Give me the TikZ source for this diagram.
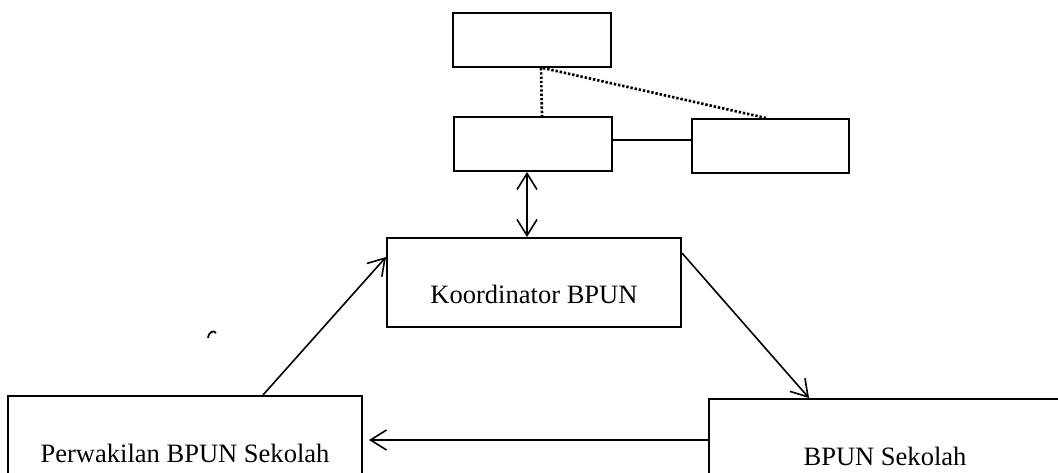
\documentclass[tikz,border=0pt]{standalone}
\usepackage{fontspec}
\setmainfont{Liberation Serif}
\usetikzlibrary{arrows.meta}
\begin{document}
\begin{tikzpicture}[x=0.75pt,y=-0.75pt,
 box/.style={draw,line width=1.5pt,inner sep=0pt,
  font=\fontsize{19.9pt}{24pt}\selectfont},
 conn/.style={line width=1.2pt},
 barb/.style={conn,-{Straight Barb[length=12pt,width=15pt]}},
 dots/.style={line width=2pt,dash pattern=on 1.8pt off 1.4pt}]
 \useasboundingbox (0,0) rectangle (1058,473);
 \node [box,minimum width=118.5pt,minimum height=40.5pt] (top) at (532,40) {};
 \node [box,minimum width=118.5pt,minimum height=40.5pt] (mid) at (533,144) {};
 \node [box,minimum width=117.75pt,minimum height=40.5pt] (side) at (770.5,146) {};
 \node [box,minimum width=220.5pt,minimum height=66.75pt,text height=33pt,text depth=0.8pt]
  (koord) at (534,282.5) {Koordinator BPUN};
 \node [box,minimum width=265.5pt,minimum height=85.5pt] (perw) at (185,453) {Perwakilan BPUN Sekolah};
 \node [box,minimum width=264pt,minimum height=85.5pt] (sekolah) at (885,456) {BPUN Sekolah};
 \draw [dots] ([xshift=6.75pt]top.south) -- ([xshift=6.75pt]mid.north);
 \draw [dots] ([xshift=8.25pt]top.south) -- ([xshift=-3.4pt]side.north);
 \draw [conn] ([yshift=3pt]mid.east) -- ([yshift=4.5pt]side.west);
 \draw [conn,{Straight Barb[length=12pt,width=15pt]}-{Straight Barb[length=12pt,width=15pt]}]
  ([xshift=-4.5pt]mid.south) -- ([xshift=-5.25pt]koord.north);
 \draw [barb] ([xshift=58.5pt]perw.north) -- ([yshift=19.1pt]koord.west);
 \draw [barb] ([yshift=22.1pt]koord.east) -- ([xshift=-57pt]sekolah.north);
 \draw [barb,shorten >=4.5pt] ([yshift=12pt]sekolah.west) -- ([yshift=9.75pt]perw.east);
 \draw [line width=1.3pt] (208,338) .. controls (209,331) and (214,330) .. (216,333);
\end{tikzpicture}
\end{document}
